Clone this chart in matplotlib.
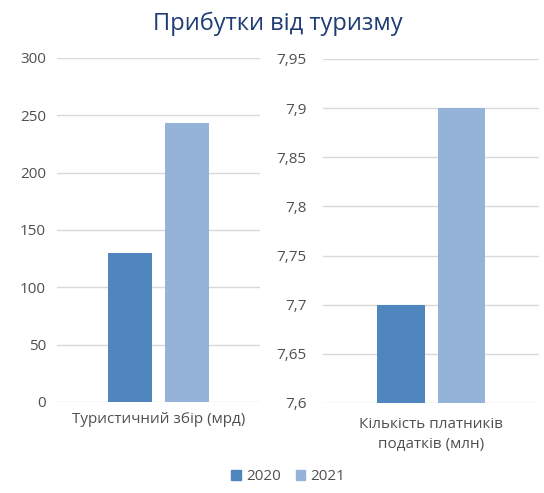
import numpy as np
import matplotlib.pyplot as plt
from matplotlib.ticker import FuncFormatter, MultipleLocator
from matplotlib.patches import Patch

plt.rcParams['font.family'] = ['Open Sans', 'DejaVu Sans']

# Data
title = "Прибутки від туризму"
years = ["2020", "2021"]
tax_collection = [130, 243]       # Туристичний збір (мрд)
taxpayers = [7.7, 7.9]            # Кількість платників податків (млн)
label_left = "Туристичний збір (мрд)"
label_right = "Кількість платників\nподатків (млн)"

colors = ["#4f86bd", "#95b3d9"]
grid_color = "#d9d9d9"
tick_color = "#505050"

fig = plt.figure(figsize=(5.44, 4.93), dpi=100)
ax1 = fig.add_axes([0.105, 0.1846, 0.373, 0.698])
ax2 = fig.add_axes([0.594, 0.1826, 0.397, 0.698])

offsets = [-0.14, 0.14]
width = 0.22


def comma_fmt(v, pos):
    return ("%g" % round(v, 4)).replace(".", ",")


def style(ax, ymin, ymax, step):
    ax.set_xlim(-0.5, 0.5)
    ax.set_ylim(ymin, ymax)
    ax.yaxis.set_major_locator(MultipleLocator(step))
    ax.yaxis.set_major_formatter(FuncFormatter(comma_fmt))
    ax.grid(axis="y", color=grid_color, linewidth=1)
    ax.set_axisbelow(True)
    for s in ax.spines.values():
        s.set_visible(False)
    ax.tick_params(axis="y", length=0, labelsize=11, labelcolor=tick_color, pad=8)
    ax.tick_params(axis="x", length=0, labelsize=11, labelcolor=tick_color, pad=7)
    ax.set_xticks([0])


for i, yr in enumerate(years):
    ax1.bar(offsets[i], tax_collection[i], width, color=colors[i], label=yr)
    ax2.bar(offsets[i], taxpayers[i] - 7.6, width, bottom=7.6, color=colors[i])

style(ax1, 0, 300, 50)
style(ax2, 7.6, 7.95, 0.05)
ax1.set_xticklabels([label_left])
ax2.set_xticklabels([label_right], linespacing=1.5)
ax2.tick_params(axis="y", pad=12)
ax2.tick_params(axis="x", pad=10)

fig.text(0.51, 0.952, title, ha="center", va="center", fontsize=17, color="#1f3c74")

handles = [Patch(color=c, label=y) for c, y in zip(colors, years)]
fig.legend(handles=handles, loc="center", bbox_to_anchor=(0.53, 0.033), ncol=2,
           frameon=False, fontsize=11, handlelength=0.6, handleheight=0.6,
           handletextpad=0.35, columnspacing=1.0, labelcolor=tick_color)

fig.savefig("out.png", dpi=100)
